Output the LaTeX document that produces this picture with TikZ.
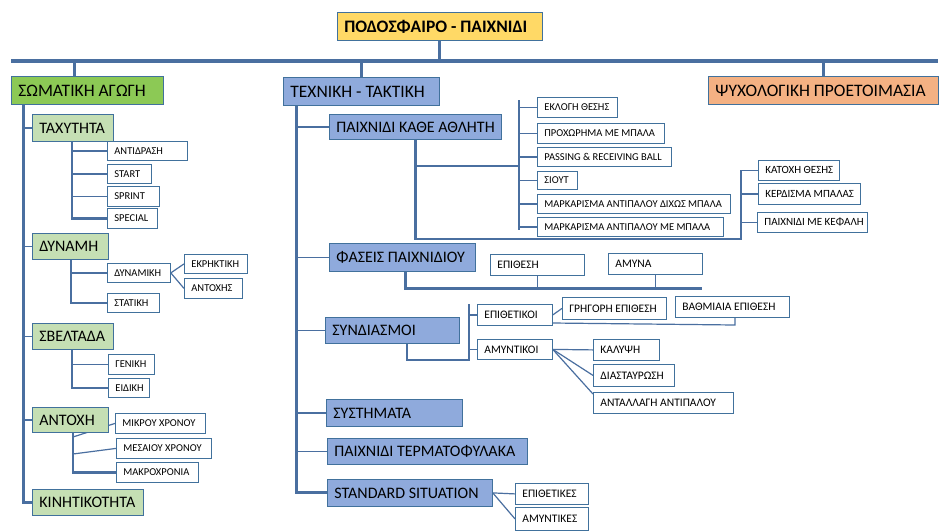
\documentclass[tikz,border=0pt]{standalone}
\usepackage{fontspec}
\setmainfont{Carlito}
\pgfdeclarelayer{bgzero}
\pgfdeclarelayer{lines}
\pgfsetlayers{bgzero,lines,main}
\definecolor{ln}{HTML}{4A6FA0}
\definecolor{bc}{HTML}{41719C}
\definecolor{gA}{HTML}{8CC955}
\definecolor{gB}{HTML}{C5DFB4}
\definecolor{bB}{HTML}{8FAADC}
\definecolor{oR}{HTML}{F4B183}
\definecolor{yR}{HTML}{FFD966}
\newcommand{\bxn}[7]{%
  \node[#1, anchor=north west, minimum width=#5pt-#3pt, minimum height=#6pt-#4pt] (#2) at (#3,#4) {\makebox[\dimexpr #5pt-#3pt-14pt\relax][l]{#7}};}
\tikzset{
  base/.style={draw=bc, line width=0.8pt, inner xsep=7pt, inner ysep=0pt, text=black},
  rootbox/.style={base, fill=yR, font=\bfseries\fontsize{17.5}{19}\selectfont},
  topg/.style={base, fill=gA, font=\fontsize{17.5}{20}\selectfont},
  topb/.style={base, fill=bB, font=\fontsize{17.5}{20}\selectfont},
  topo/.style={base, fill=oR, font=\fontsize{17.5}{20}\selectfont},
  subg/.style={base, fill=gB, font=\fontsize{16}{18}\selectfont},
  subb/.style={base, fill=bB, font=\fontsize{16}{18}\selectfont},
  leaf/.style={base, fill=white, font=\fontsize{10.5}{12}\selectfont},
  leafm/.style={base, fill=white, font=\fontsize{11}{13}\selectfont},
  leafl/.style={base, fill=white, font=\fontsize{11.5}{13}\selectfont},
  bar/.style={draw=ln, line width=4.5pt},
  trunk/.style={draw=ln, line width=3pt},
  mid/.style={draw=ln, line width=2.2pt},
  thin/.style={draw=ln, line width=1.2pt},
}
\begin{document}
\begin{tikzpicture}[x=1pt,y=-1pt]
\useasboundingbox (0,0) rectangle (951,531);
\begin{pgfonlayer}{bgzero}
\fill[white] (0,0) rectangle (951,531);
\end{pgfonlayer}

% ---------- coordinates for connectors ----------
\coordinate (barL) at (11,61);
\coordinate (barR) at (938,61);
\coordinate (c1) at (74,61);
\coordinate (lt) at (23,104);
\coordinate (mt) at (296,105);
\coordinate (tv) at (72,141);
\coordinate (dv) at (71,259);
\coordinate (sv2) at (72,349);
\coordinate (av) at (73,432);
\coordinate (a1) at (73,437);
\coordinate (a2) at (73,454);
\coordinate (gv1) at (519,100);
\coordinate (gv2) at (519,230);
\coordinate (gvm) at (519,166);
\coordinate (kv) at (741,239);
\coordinate (fh) at (702,288);
\coordinate (s0) at (407,343);
\coordinate (s1) at (469,360);
\coordinate (sv) at (469,304);
\coordinate (ep2) at (552,323);
\coordinate (ve) at (735,325);
\coordinate (a3) at (593,394);

% ---------- top ----------
\bxn{rootbox}{root}{337}{12}{542}{40}{ΠΟΔΟΣΦΑΙΡΟ - ΠΑΙΧΝΙΔΙ}
\bxn{topg}{soma}{11}{76}{163}{104}{ΣΩΜΑΤΙΚΗ ΑΓΩΓΗ}
\bxn{topb}{tech}{283}{77}{439}{105}{ΤΕΧΝΙΚΗ - ΤΑΚΤΙΚΗ}
\bxn{topo}{psy}{708}{76}{938}{104}{ΨΥΧΟΛΟΓΙΚΗ ΠΡΟΕΤΟΙΜΑΣΙΑ}

% ---------- left column ----------
\bxn{subg}{tax}{32}{114}{113}{141}{ΤΑΧΥΤΗΤΑ}
\bxn{leaf}{antid}{107}{141}{187}{160}{ΑΝΤΙΔΡΑΣΗ}
\bxn{leaf}{start}{107}{164}{151}{183}{START}
\bxn{leaf}{sprint}{107}{186}{159}{206}{SPRINT}
\bxn{leaf}{special}{107}{208}{157}{228}{SPECIAL}
\bxn{subg}{dyn}{32}{233}{108}{259}{ΔΥΝΑΜΗ}
\bxn{leaf}{dynamiki}{107}{263}{170}{282}{ΔΥΝΑΜΙΚΗ}
\bxn{leaf}{ekr}{184}{254}{247}{273}{ΕΚΡΗΚΤΙΚΗ}
\bxn{leaf}{antox}{184}{278}{242}{298}{ΑΝΤΟΧΗΣ}
\bxn{leaf}{stat}{107}{293}{159}{312}{ΣΤΑΤΙΚΗ}
\bxn{subg}{svel}{32}{323}{113}{349}{ΣΒΕΛΤΑΔΑ}
\bxn{leaf}{gen}{108}{354}{154}{374}{ΓΕΝΙΚΗ}
\bxn{leaf}{eid}{108}{378}{149}{397}{ΕΙΔΙΚΗ}
\bxn{subg}{antoxi}{32}{407}{108}{432}{ΑΝΤΟΧΗ}
\bxn{leaf}{mikr}{115}{413}{205}{433}{ΜΙΚΡΟΥ ΧΡΟΝΟΥ}
\bxn{leaf}{mes}{116}{438}{211}{458}{ΜΕΣΑΙΟΥ ΧΡΟΝΟΥ}
\bxn{leaf}{makr}{116}{462}{198}{482}{ΜΑΚΡΟΧΡΟΝΙΑ}
\bxn{subg}{kin}{32}{489}{143}{515}{ΚΙΝΗΤΙΚΟΤΗΤΑ}

% ---------- middle column ----------
\bxn{subb}{pka}{329}{114}{501}{139}{ΠΑΙΧΝΙΔΙ ΚΑΘΕ ΑΘΛΗΤΗ}
\bxn{leaf}{ekl}{537}{97}{617}{117}{ΕΚΛΟΓΗ ΘΕΣΗΣ}
\bxn{leaf}{prox}{537}{123}{664}{143}{ΠΡΟΧΩΡΗΜΑ ΜΕ ΜΠΑΛΑ}
\bxn{leaf}{pass}{537}{147}{671}{166}{PASSING \& RECEIVING BALL}
\bxn{leaf}{siout}{537}{171}{577}{189}{ΣΙΟΥΤ}
\bxn{leaf}{mark1}{537}{194}{730}{213}{ΜΑΡΚΑΡΙΣΜΑ ΑΝΤΙΠΑΛΟΥ ΔΙΧΩΣ ΜΠΑΛΑ}
\bxn{leaf}{mark2}{537}{217}{723}{236}{ΜΑΡΚΑΡΙΣΜΑ ΑΝΤΙΠΑΛΟΥ ΜΕ ΜΠΑΛΑ}
\bxn{leafm}{katox}{758}{160}{839}{180}{ΚΑΤΟΧΗ ΘΕΣΗΣ}
\bxn{leafm}{kerd}{758}{183}{860}{204}{ΚΕΡΔΙΣΜΑ ΜΠΑΛΑΣ}
\bxn{leafm}{kef}{757}{212}{867}{232}{ΠΑΙΧΝΙΔΙ ΜΕ ΚΕΦΑΛΗ}
\bxn{subb}{fas}{329}{243}{475}{271}{ΦΑΣΕΙΣ ΠΑΙΧΝΙΔΙΟΥ}
\bxn{leafl}{epith}{490}{254}{584}{275}{ΕΠΙΘΕΣΗ}
\bxn{leafl}{amyna}{608}{253}{702}{274}{ΑΜΥΝΑ}
\bxn{subb}{synd}{325}{317}{459}{343}{ΣΥΝΔΙΑΣΜΟΙ}
\bxn{leafl}{epitk}{477}{304}{552}{325}{ΕΠΙΘΕΤΙΚΟΙ}
\bxn{leafl}{amynk}{477}{339}{552}{359}{ΑΜΥΝΤΙΚΟΙ}
\bxn{leafl}{grig}{562}{297}{666}{319}{ΓΡΗΓΟΡΗ ΕΠΙΘΕΣΗ}
\bxn{leafl}{vathm}{675}{296}{789}{317}{ΒΑΘΜΙΑΙΑ ΕΠΙΘΕΣΗ}
\bxn{leafl}{kal}{593}{339}{659}{360}{ΚΑΛΥΨΗ}
\bxn{leafl}{diast}{593}{364}{674}{386}{ΔΙΑΣΤΑΥΡΩΣΗ}
\bxn{leafl}{antal}{593}{392}{733}{413}{ΑΝΤΑΛΛΑΓΗ ΑΝΤΙΠΑΛΟΥ}
\bxn{subb}{syst}{326}{399}{462}{426}{ΣΥΣΤΗΜΑΤΑ}
\bxn{subb}{term}{327}{438}{527}{464}{ΠΑΙΧΝΙΔΙ ΤΕΡΜΑΤΟΦΥΛΑΚΑ}
\bxn{subb}{stand}{327}{479}{492}{506}{STANDARD SITUATION}
\bxn{leafl}{epk}{515}{483}{588}{504}{ΕΠΙΘΕΤΙΚΕΣ}
\bxn{leafl}{amk}{515}{507}{588}{530}{ΑΜΥΝΤΙΚΕΣ}

\begin{pgfonlayer}{lines}
% top
\draw[trunk] (root.south -| 439,0) -- (439,61);
\draw[bar] (barL) -- (barR);
\draw[trunk] (c1) -- (c1 |- soma.north);
\draw[trunk] (tech.north) -- (tech.north |- barL);
\draw[trunk] (psy.north) -- (psy.north |- barL);

% left
\draw[trunk] (lt) |- (kin.west);
\foreach \n in {tax,dyn,svel,antoxi} \draw[thin] (\n.west -| lt) -- (\n.west);
\draw[mid] (tv) |- (special.west);
\foreach \n in {antid,start,sprint} \draw[thin] (\n.west -| tv) -- (\n.west);
\draw[mid] (dv) |- (stat.west);
\draw[thin] (dynamiki.west -| dv) -- (dynamiki.west);
\draw[thin] (dynamiki.east) -- (ekr.west);
\draw[thin] (dynamiki.east) -- (antox.west);
\draw[mid] (sv2) |- (eid.west);
\draw[thin] (gen.west -| sv2) -- (gen.west);
\draw[mid] (av) |- (makr.west);
\draw[thin] (a1) -- (mikr.west);
\draw[thin] (a2) -- (mes.west);

% middle
\draw[trunk] (mt) |- (stand.west);
\foreach \n in {pka,fas,synd,syst,term} \draw[thin] (\n.west -| mt) -- (\n.west);

\draw[mid] (pka.south) |- (kv) -- (kv |- katox.west);
\draw[mid] (pka.south |- gvm) -- (gvm);
\draw[mid] (gv1) -- (gv2);
\foreach \n in {ekl,prox,pass,siout,mark1,mark2} \draw[thin] (\n.west -| gv1) -- (\n.west);
\foreach \n in {katox,kerd,kef} \draw[thin] (\n.west -| kv) -- (\n.west);

\draw[trunk] (fas.south -| 405,0) |- (fh);
\draw[thin] (epith.south) -- (epith.south |- fh);
\draw[thin] (amyna.south) -- (amyna.south |- fh);

\draw[mid] (s0) |- (s1) -- (sv);
\draw[thin] (epitk.west -| sv) -- (epitk.west);
\draw[thin] (amynk.west -| sv) -- (amynk.west);
\draw[thin] (epitk.east) -- (grig.west);
\draw[thin] (ep2) -- (ve) -- (ve |- vathm.south);
\draw[thin] (amynk.east) -- (kal.west);
\draw[thin] (amynk.east) -- (diast.west);
\draw[thin] (amynk.east) -- (a3);

\draw[thin] (stand.east) -- (epk.west);
\draw[thin] (stand.east) -- (amk.west);
\end{pgfonlayer}
\end{tikzpicture}
\end{document}
